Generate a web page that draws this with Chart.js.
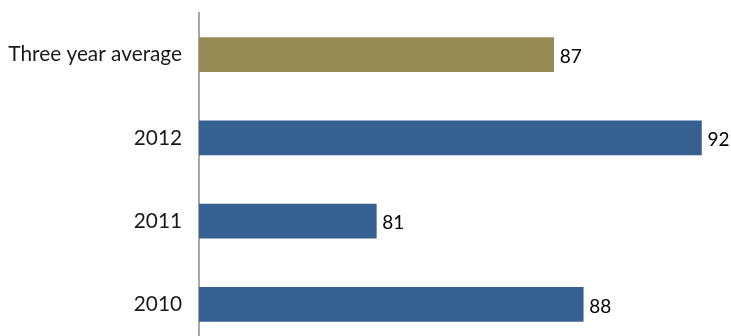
<!DOCTYPE html>
<html>
<head>
<meta charset="utf-8">
<script src="https://cdn.jsdelivr.net/npm/chart.js@4"></script>
<style>
  html, body { margin: 0; padding: 0; background: #fff; overflow: hidden; }
  canvas { display: block; }
</style>
</head>
<body>
<canvas id="bars" width="731" height="346"></canvas>
<script>
const categories = ['Three year average', '2012', '2011', '2010'];
const scores = [87, 92, 81, 88];
const barColors = ['#948A54', '#376092', '#376092', '#376092'];

const FONT = 'Lato, "Open Sans", sans-serif';

// writes each value just past the end of its bar
const valueLabels = {
  id: 'valueLabels',
  afterDatasetsDraw(chart) {
    const ctx = chart.ctx;
    const meta = chart.getDatasetMeta(0);
    ctx.save();
    ctx.font = '19px ' + FONT;
    ctx.fillStyle = '#000';
    ctx.textAlign = 'left';
    ctx.textBaseline = 'middle';
    meta.data.forEach((bar, i) => {
      ctx.fillText(String(scores[i]), bar.x + 6, bar.y + 2);
    });
    ctx.restore();
  }
};

window.addEventListener('load', () => {
  const ctx = document.getElementById('bars').getContext('2d');
  new Chart(ctx, {
    type: 'bar',
    data: {
      labels: categories,
      datasets: [{
        data: scores,
        backgroundColor: barColors,
        borderWidth: 0,
        barThickness: 34
      }]
    },
    options: {
      indexAxis: 'y',
      responsive: false,
      animation: false,
      layout: { padding: { top: 13, right: 0, bottom: 0, left: 0 } },
      plugins: {
        legend: { display: false },
        tooltip: { enabled: false }
      },
      scales: {
        x: {
          display: false,
          min: 75,
          max: 93
        },
        y: {
          afterFit(scale) {
            scale.width = 199;
            scale.paddingTop = 0;
            scale.paddingBottom = 0;
          },
          grid: { display: false, drawTicks: false },
          border: { display: true, color: '#a6a6a6', width: 2 },
          ticks: {
            padding: 17,
            color: '#1a1a1a',
            font: { family: FONT, size: 20.8 }
          }
        }
      }
    },
    plugins: [valueLabels]
  });
});
</script>
</body>
</html>
